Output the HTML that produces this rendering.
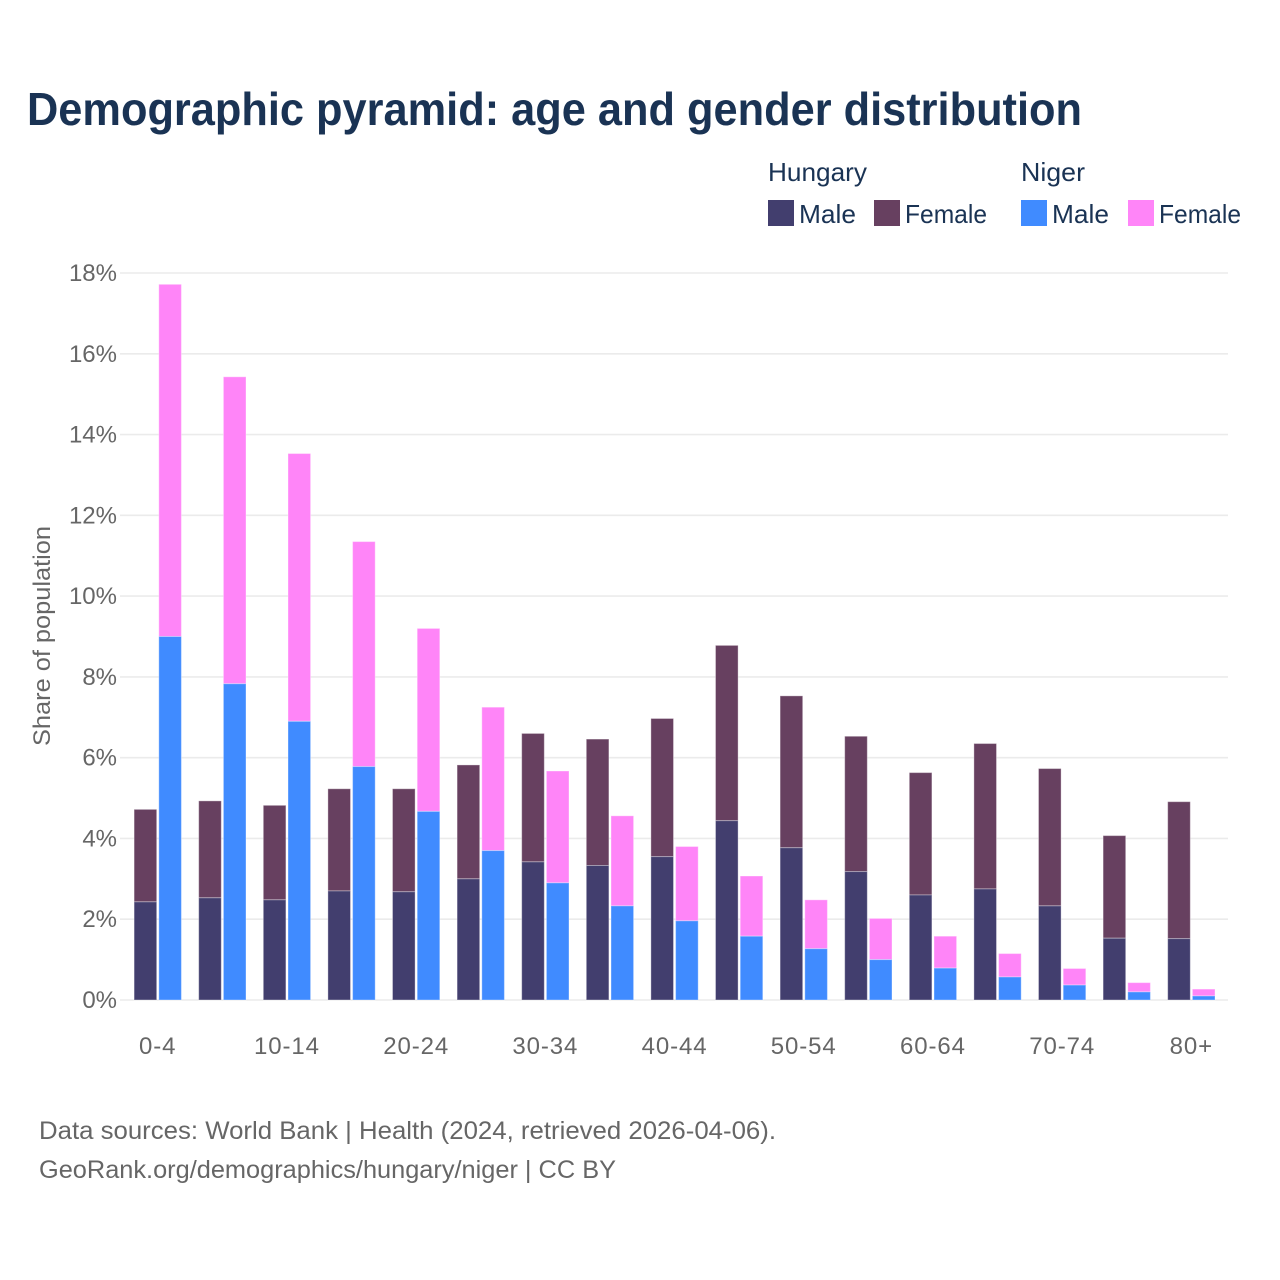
<!DOCTYPE html>
<html lang="en">
<head>
<meta charset="utf-8">
<title>Demographic pyramid: age and gender distribution</title>
<style>
  html, body { margin: 0; padding: 0; background: #fff; }
  svg { display: block; font-family: "Liberation Sans", sans-serif; }
</style>
</head>
<body>
<svg id="chart" xmlns="http://www.w3.org/2000/svg" width="1280" height="1280" viewBox="0 0 1280 1280">
  <rect x="0" y="0" width="1280" height="1280" fill="#ffffff"/>
  <text x="27" y="125" font-size="46" font-weight="700" fill="#1a3354" textLength="1055" lengthAdjust="spacingAndGlyphs">Demographic pyramid: age and gender distribution</text>

  <g font-size="26" fill="#1a3354">
    <text x="768" y="181" textLength="99" lengthAdjust="spacingAndGlyphs">Hungary</text>
    <text x="1021" y="181" textLength="64" lengthAdjust="spacingAndGlyphs">Niger</text>
    <rect x="768" y="200" width="26" height="26" fill="#423e6e"/>
    <text x="799" y="223" textLength="57" lengthAdjust="spacingAndGlyphs">Male</text>
    <rect x="874" y="200" width="26" height="26" fill="#674060"/>
    <text x="905" y="223" textLength="82" lengthAdjust="spacingAndGlyphs">Female</text>
    <rect x="1021" y="200" width="26" height="26" fill="#408bff"/>
    <text x="1052" y="223" textLength="57" lengthAdjust="spacingAndGlyphs">Male</text>
    <rect x="1128" y="200" width="26" height="26" fill="#ff85f8"/>
    <text x="1159" y="223" textLength="82" lengthAdjust="spacingAndGlyphs">Female</text>
  </g>

  <g id="grid"></g>
  <g id="bars"></g>
  <g id="yticks" font-size="24" fill="#666666"></g>
  <g id="xticks" font-size="24" fill="#666666"></g>

  <text transform="translate(50 636) rotate(-90)" text-anchor="middle" font-size="24" fill="#666666" textLength="220" lengthAdjust="spacingAndGlyphs">Share of population</text>

  <text x="39" y="1139" font-size="25" fill="#666666" textLength="737" lengthAdjust="spacingAndGlyphs">Data sources: World Bank | Health (2024, retrieved 2026-04-06).</text>
  <text x="39" y="1178" font-size="25" fill="#666666" textLength="577" lengthAdjust="spacingAndGlyphs">GeoRank.org/demographics/hungary/niger | CC BY</text>
</svg>
<script>
const ageGroups = ["0-4","5-9","10-14","15-19","20-24","25-29","30-34","35-39","40-44","45-49","50-54","55-59","60-64","65-69","70-74","75-79","80+"];
const hungaryMale = [2.43,2.53,2.48,2.70,2.68,3.00,3.42,3.33,3.55,4.44,3.77,3.18,2.60,2.75,2.33,1.53,1.52];
const hungaryFemale = [2.29,2.40,2.34,2.53,2.55,2.82,3.18,3.13,3.42,4.34,3.76,3.35,3.03,3.60,3.40,2.54,3.39];
const nigerMale = [9.00,7.83,6.90,5.78,4.67,3.70,2.90,2.33,1.96,1.58,1.27,1.00,0.79,0.57,0.37,0.20,0.10];
const nigerFemale = [8.72,7.60,6.63,5.57,4.53,3.55,2.77,2.23,1.84,1.49,1.21,1.02,0.79,0.58,0.41,0.23,0.17];
const yTicks = [0,2,4,6,8,10,12,14,16,18];

const SVG_NS = "http://www.w3.org/2000/svg";
const plot = { left: 120, right: 1228, y0: 1000, y18: 273, firstBar: 134.1, step: 64.6, barW: 22.6, barGap: 24.7 };

function yScale(v) {
  return plot.y0 - (v / 18) * (plot.y0 - plot.y18);
}
function xScale(i, seriesIndex) {
  return plot.firstBar + i * plot.step + seriesIndex * plot.barGap;
}
function make(tag, attrs) {
  const el = document.createElementNS(SVG_NS, tag);
  for (const k in attrs) el.setAttribute(k, attrs[k]);
  return el;
}

const gridG = document.getElementById("grid");
const yG = document.getElementById("yticks");
yTicks.forEach(function (t) {
  const y = yScale(t);
  const line = make("line", { x1: plot.left, x2: plot.right, y1: y, y2: y, stroke: "#ebebeb", "stroke-width": 1.6 });
  
  
  gridG.appendChild(line);
  const label = make("text", { x: 117, y: y + 8, "text-anchor": "end" });
  
  
  label.textContent = t + "%";
  yG.appendChild(label);
});

const barsG = document.getElementById("bars");
function stack(i, seriesIndex, maleVal, femaleVal, maleColor, femaleColor) {
  const x = xScale(i, seriesIndex);
  const yMale = yScale(maleVal);
  const yTop = yScale(maleVal + femaleVal);
  const f = make("rect", { x: x, y: yTop, width: plot.barW, height: yMale - yTop, fill: femaleColor, stroke: "#ffffff", "stroke-opacity": 0.35, "stroke-width": 1 });
  
  
  barsG.appendChild(f);
  const m = make("rect", { x: x, y: yMale, width: plot.barW, height: plot.y0 - yMale, fill: maleColor, stroke: "#ffffff", "stroke-opacity": 0.35, "stroke-width": 1 });
  
  
  barsG.appendChild(m);
}
ageGroups.forEach(function (g, i) {
  stack(i, 0, hungaryMale[i], hungaryFemale[i], "#423e6e", "#674060");
  stack(i, 1, nigerMale[i], nigerFemale[i], "#408bff", "#ff85f8");
});

const xG = document.getElementById("xticks");
ageGroups.forEach(function (g, i) {
  if (i % 2 !== 0) return;
  const cx = xScale(i, 0) + (plot.barGap + plot.barW) / 2;
  const label = make("text", { x: cx, y: 1054, "text-anchor": "middle", "letter-spacing": "0.9" });
  
  
  label.textContent = g;
  xG.appendChild(label);
});
</script>
</body>
</html>
